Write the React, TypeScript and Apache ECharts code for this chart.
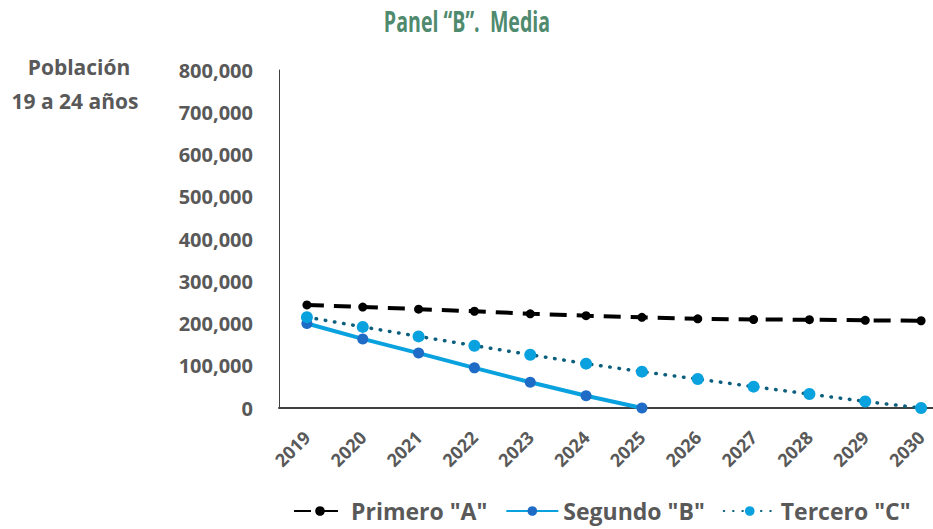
import React, { useEffect, useRef } from "react";
import * as echarts from "echarts";

// Years on the horizontal axis
const years = ["2019", "2020", "2021", "2022", "2023", "2024", "2025", "2026", "2027", "2028", "2029", "2030"];

// Population aged 19–24, three scenarios
const primeroA = [244000, 239000, 234000, 229000, 223000, 218500, 214500, 211000, 209500, 209000, 207500, 206500];
const segundoB = [200000, 163500, 130000, 95000, 61000, 29000, 0];
const terceroC = [215000, 192000, 169500, 147500, 126000, 105000, 86000, 68500, 50500, 33000, 15500, 0];

const seriesNames = ['Primero "A"', 'Segundo "B"', 'Tercero "C"'];

const GREY = "#595959";
const FONT = "'Open Sans', 'Noto Sans', sans-serif";

export default function App() {
  const ref = useRef<HTMLDivElement>(null);

  useEffect(() => {
    if (!ref.current) return;
    const chart = echarts.init(ref.current, undefined, { renderer: "svg" });
    chart.setOption({
      animation: false,
      backgroundColor: "#ffffff",
      textStyle: { fontFamily: FONT },
      graphic: [
        {
          type: "text",
          x: 467,
          y: 21,
          scaleX: 0.7,
          style: {
            text: "Panel “B”.  Media",
            fontFamily: FONT,
            fontWeight: "bold",
            fontSize: 28,
            fill: "#4F8A6E",
            textAlign: "center",
            textVerticalAlign: "middle",
          },
        },
        {
          type: "text",
          x: 79,
          y: 67,
          style: {
            text: "Población",
            fontFamily: FONT,
            fontWeight: "bold",
            fontSize: 21,
            fill: GREY,
            textAlign: "center",
            textVerticalAlign: "middle",
          },
        },
        {
          type: "text",
          x: 75,
          y: 101,
          style: {
            text: "19 a 24 años",
            fontFamily: FONT,
            fontWeight: "bold",
            fontSize: 21,
            fill: GREY,
            textAlign: "center",
            textVerticalAlign: "middle",
          },
        },
      ],
      // the plot runs a little past the right edge of the visible frame
      grid: { left: 279, top: 70, bottom: 121, right: 0, containLabel: false },
      legend: {
        left: 288,
        top: 492,
        itemWidth: 52,
        itemHeight: 12,
        itemGap: 18,
        data: seriesNames,
        textStyle: { fontFamily: FONT, fontWeight: "bold", fontSize: 23, color: GREY, lineHeight: 28 },
      },
      xAxis: {
        type: "category",
        data: years,
        boundaryGap: true,
        axisLine: { show: true, lineStyle: { color: "#404040", width: 2 } },
        axisTick: { show: false },
        axisLabel: {
          rotate: 45,
          margin: 26,
          interval: 0,
          fontFamily: FONT,
          fontWeight: "bold",
          fontSize: 18,
          color: GREY,
        },
        splitLine: { show: false },
      },
      yAxis: {
        type: "value",
        min: 0,
        max: 800000,
        interval: 100000,
        axisLine: { show: true, lineStyle: { color: "#404040", width: 1 } },
        axisTick: { show: false },
        splitLine: { show: false },
        axisLabel: {
          margin: 26,
          fontFamily: FONT,
          fontWeight: "bold",
          fontSize: 20,
          color: GREY,
          formatter: (v: number) => v.toLocaleString("en-US"),
        },
      },
      series: [
        {
          name: seriesNames[0],
          type: "line",
          data: primeroA,
          symbol: "circle",
          symbolSize: 9,
          itemStyle: { color: "#000000" },
          lineStyle: { color: "#000000", width: 4, type: [17, 10] },
          z: 2,
        },
        {
          name: seriesNames[1],
          type: "line",
          data: segundoB,
          symbol: "circle",
          symbolSize: 11,
          itemStyle: { color: "#1F6CC6" },
          lineStyle: { color: "#0AA2DE", width: 4 },
          z: 3,
        },
        {
          name: seriesNames[2],
          type: "line",
          data: terceroC,
          symbol: "circle",
          symbolSize: 12,
          itemStyle: { color: "#0AA2DE" },
          lineStyle: { color: "#0B5F7C", width: 3.5, type: [0.5, 8.8], cap: "round" },
          z: 4,
        },
      ],
    });
    return () => chart.dispose();
  }, []);

  return (
    <div style={{ position: "absolute", left: 0, top: 0, width: 933, height: 529, overflow: "hidden" }}>
      <div ref={ref} style={{ width: 949, height: 529 }} />
    </div>
  );
}
